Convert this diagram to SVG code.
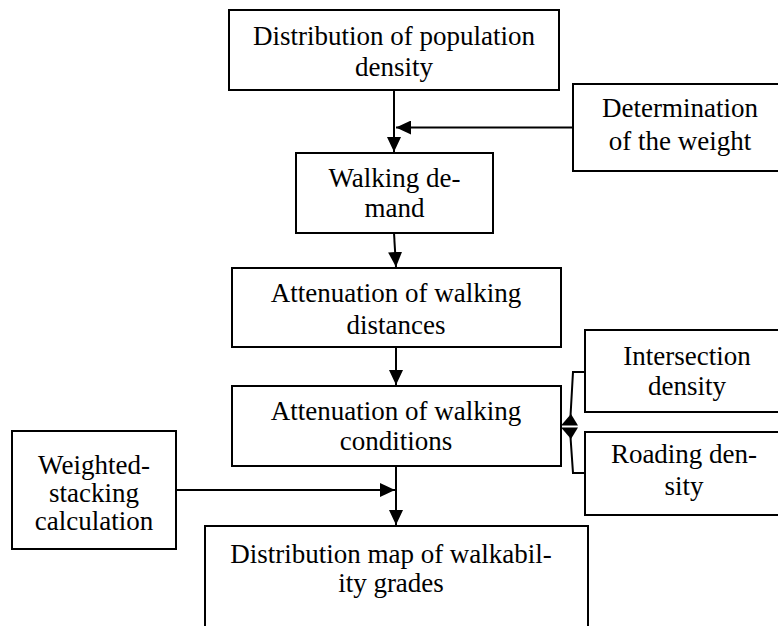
<svg xmlns="http://www.w3.org/2000/svg" width="778" height="626" viewBox="0 0 778 626">
<style>
.box{fill:#fff;stroke:#000;stroke-width:2}
.t{font-family:'Liberation Serif','Times New Roman','DejaVu Serif',serif;font-size:27px;fill:#000;text-anchor:middle}
.c{stroke:#000;stroke-width:2;fill:none}
.h{fill:#000;stroke:none}
</style>
<defs>
<marker id="arr" markerUnits="userSpaceOnUse" markerWidth="16" markerHeight="14" refX="15" refY="7" orient="auto">
<path d="M0,0 L15,7 L0,14 z" fill="#000"/>
</marker>
</defs>
<rect width="778" height="626" fill="#fff"/>
<g id="connectors">
<line class="c" x1="394" y1="90" x2="394" y2="152" marker-end="url(#arr)"/>
<line class="c" x1="573" y1="127.5" x2="396" y2="127.5" marker-end="url(#arr)"/>
<line class="c" x1="394" y1="233" x2="396" y2="267" marker-end="url(#arr)"/>
<line class="c" x1="396" y1="347" x2="396" y2="385" marker-end="url(#arr)"/>
<line class="c" x1="176" y1="490" x2="395" y2="490" marker-end="url(#arr)"/>
<line class="c" x1="396" y1="466" x2="396" y2="525" marker-end="url(#arr)"/>
<polyline class="c" points="585,372 573,372 570.5,416"/>
<polyline class="c" points="585,473 573,473 570.5,437"/>
<polygon class="h" points="571,414 561,425.5 578,425.5"/>
<polygon class="h" points="561,427.5 578,427.5 571,439"/>
</g>
<g id="n1"><rect class="box" x="229" y="10" width="330" height="80"/>
<text class="t" x="394" y="45" font-family="Liberation Serif, serif">Distribution of population</text>
<text class="t" x="394" y="76">density</text></g>
<g id="n2"><rect class="box" x="573" y="84" width="216" height="87"/>
<text class="t" x="680" y="117">Determination</text>
<text class="t" x="680" y="150">of the weight</text></g>
<g id="n3"><rect class="box" x="296" y="153" width="197" height="80"/>
<text class="t" x="394.5" y="187">Walking de-</text>
<text class="t" x="394.5" y="217">mand</text></g>
<g id="n4"><rect class="box" x="232" y="268" width="329" height="79"/>
<text class="t" x="396" y="302">Attenuation of walking</text>
<text class="t" x="396" y="334">distances</text></g>
<g id="n5"><rect class="box" x="232" y="386" width="329" height="80"/>
<text class="t" x="396" y="420">Attenuation of walking</text>
<text class="t" x="396" y="450">conditions</text></g>
<g id="n6"><rect class="box" x="585" y="330" width="205" height="82"/>
<text class="t" x="687" y="365">Intersection</text>
<text class="t" x="687" y="395">density</text></g>
<g id="n7"><rect class="box" x="585" y="432" width="205" height="83"/>
<text class="t" x="684" y="463">Roading den-</text>
<text class="t" x="684" y="495">sity</text></g>
<g id="n8"><rect class="box" x="12" y="431" width="164" height="118"/>
<text class="t" x="94" y="474">Weighted-</text>
<text class="t" x="94" y="502">stacking</text>
<text class="t" x="94" y="530">calculation</text></g>
<g id="n9"><rect class="box" x="205" y="526" width="383" height="120"/>
<text class="t" x="391" y="563">Distribution map of walkabil-</text>
<text class="t" x="391" y="592">ity grades</text></g>
</svg>
